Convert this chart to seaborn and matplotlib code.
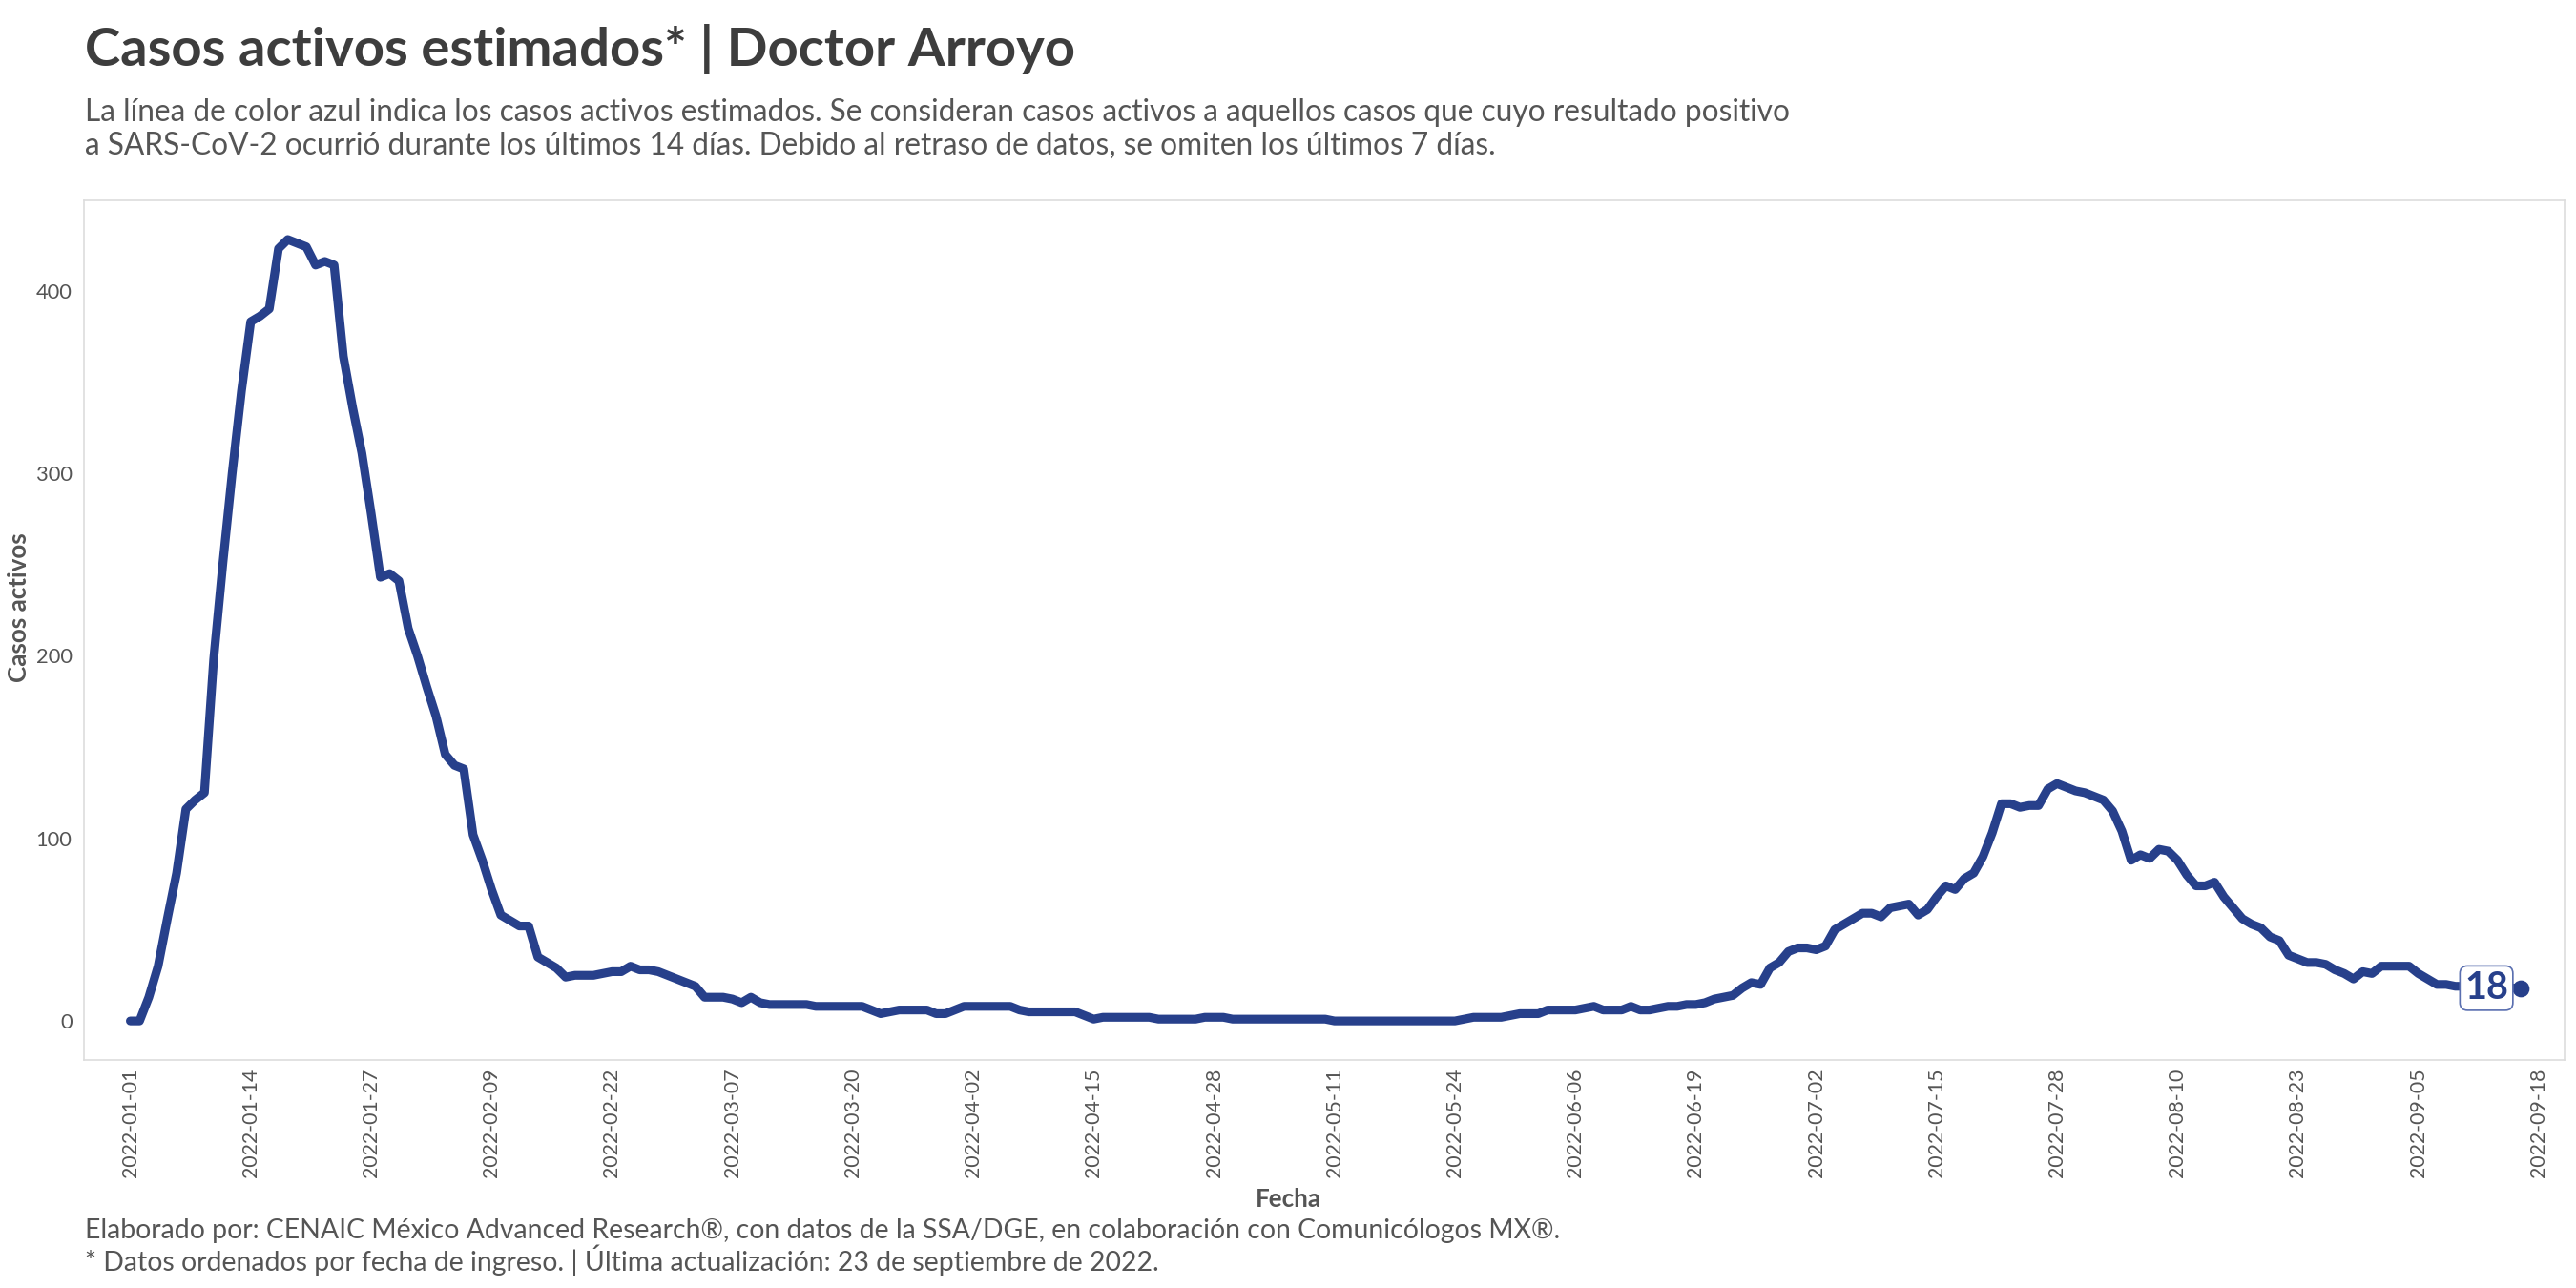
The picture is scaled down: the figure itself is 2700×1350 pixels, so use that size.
import numpy as np
import pandas as pd
import seaborn as sns
import matplotlib.pyplot as plt
import matplotlib.dates as mdates

# casos activos estimados por dia, 2022-01-01 .. 2022-09-16
casos = [
    0, 0, 13, 30, 56, 81, 116, 121, 125, 198,
    251, 300, 345, 383, 386, 390, 423, 428, 426, 424,
    414, 416, 414, 364, 336, 311, 278, 243, 245, 241,
    215, 200, 183, 167, 146, 140, 138, 102, 88, 72,
    58, 55, 52, 52, 35, 32, 29, 24, 25, 25,
    25, 26, 27, 27, 30, 28, 28, 27, 25, 23,
    21, 19, 13, 13, 13, 12, 10, 13, 10, 9,
    9, 9, 9, 9, 8, 8, 8, 8, 8, 8,
    6, 4, 5, 6, 6, 6, 6, 4, 4, 6,
    8, 8, 8, 8, 8, 8, 6, 5, 5, 5,
    5, 5, 5, 3, 1, 2, 2, 2, 2, 2,
    2, 1, 1, 1, 1, 1, 2, 2, 2, 1,
    1, 1, 1, 1, 1, 1, 1, 1, 1, 1,
    0, 0, 0, 0, 0, 0, 0, 0, 0, 0,
    0, 0, 0, 0, 1, 2, 2, 2, 2, 3,
    4, 4, 4, 6, 6, 6, 6, 7, 8, 6,
    6, 6, 8, 6, 6, 7, 8, 8, 9, 9,
    10, 12, 13, 14, 18, 21, 20, 29, 32, 38,
    40, 40, 39, 41, 50, 53, 56, 59, 59, 57,
    62, 63, 64, 58, 61, 68, 74, 72, 78, 81,
    90, 103, 119, 119, 117, 118, 118, 127, 130, 128,
    126, 125, 123, 121, 115, 104, 88, 91, 89, 94,
    93, 88, 80, 74, 74, 76, 68, 62, 56, 53,
    51, 46, 44, 36, 34, 32, 32, 31, 28, 26,
    23, 27, 26, 30, 30, 30, 30, 26, 23, 20,
    20, 19, 19, 19, 18, 18, 18, 18, 18,
]
fechas = pd.date_range("2022-01-01", "2022-09-16", freq="D")
ticks_x = pd.date_range("2022-01-01", "2022-09-18", freq="13D")
ticks_y = [0, 100, 200, 300, 400]

titulo = "Casos activos estimados* | Doctor Arroyo"
subtitulo = [
    "La línea de color azul indica los casos activos estimados. Se consideran casos activos a aquellos casos que cuyo resultado positivo",
    "a SARS-CoV-2 ocurrió durante los últimos 14 días. Debido al retraso de datos, se omiten los últimos 7 días.",
]
pie = [
    "Elaborado por: CENAIC México Advanced Research®, con datos de la SSA/DGE, en colaboración con Comunicólogos MX®.",
    "* Datos ordenados por fecha de ingreso. | Última actualización: 23 de septiembre de 2022.",
]

df = pd.DataFrame({"fecha": fechas, "casos": casos})

AZUL = "#27408B"
GRIS = "#555555"

sns.set_theme(style="white")
plt.rcParams["font.family"] = ["Lato", "DejaVu Sans"]

fig = plt.figure(figsize=(18, 9), dpi=150)
ax = fig.add_axes([0.0326, 0.177, 0.9630, 0.6674])

sns.lineplot(data=df, x="fecha", y="casos", color=AZUL, linewidth=4.4, ax=ax)
for ln in ax.lines:
    ln.set_solid_joinstyle("round")
ult = df.iloc[-1]
ax.plot(ult["fecha"], ult["casos"], "o", color=AZUL, markersize=7.5)
ax.annotate(str(int(ult["casos"])), (ult["fecha"], ult["casos"]),
            xytext=(-17, 0), textcoords="offset points", ha="center", va="center",
            fontsize=19, fontweight="bold", color=AZUL,
            bbox=dict(boxstyle="round,pad=0.12,rounding_size=0.2", fc="white", ec="#5a6fb0", lw=0.8))

t0 = pd.Timestamp("2022-01-01")
ax.set_xlim(t0 - pd.Timedelta(days=5), t0 + pd.Timedelta(days=262.8))
ax.set_ylim(-21.4, 449.4)
ax.set_xticks(ticks_x)
ax.xaxis.set_major_formatter(mdates.DateFormatter("%Y-%m-%d"))
ax.set_yticks(ticks_y)
ax.tick_params(axis="x", labelrotation=90, labelsize=10.2, colors=GRIS, length=0, pad=4)
ax.tick_params(axis="y", labelsize=10.5, colors=GRIS, length=0, pad=6)
for s in ax.spines.values():
    s.set_color("#dddddd")
    s.set_linewidth(0.8)
ax.grid(False)

ax.set_xlabel("")
ax.set_ylabel("")
fig.text(0.5, 1 - 1257 / 1350, "Fecha", ha="center", va="center", fontsize=12.5, fontweight="bold", color=GRIS)
fig.text(20 / 2700, 1 - 637 / 1350, "Casos activos", ha="center", va="center", rotation=90,
         fontsize=12.5, fontweight="bold", color=GRIS)

fig.text(89 / 2700, 1 - 69 / 1350, titulo, ha="left", va="baseline", fontsize=27,
         fontweight="bold", color="#3d3d3d")
for i, linea in enumerate(subtitulo):
    fig.text(89 / 2700, 1 - (127 + 35 * i) / 1350, linea, ha="left", va="baseline",
             fontsize=15.2, color=GRIS)
for i, linea in enumerate(pie):
    fig.text(89 / 2700, 1 - (1298 + 34 * i) / 1350, linea, ha="left", va="baseline",
             fontsize=13.6, color=GRIS)

fig.savefig("out.png", dpi=150, facecolor="white")
